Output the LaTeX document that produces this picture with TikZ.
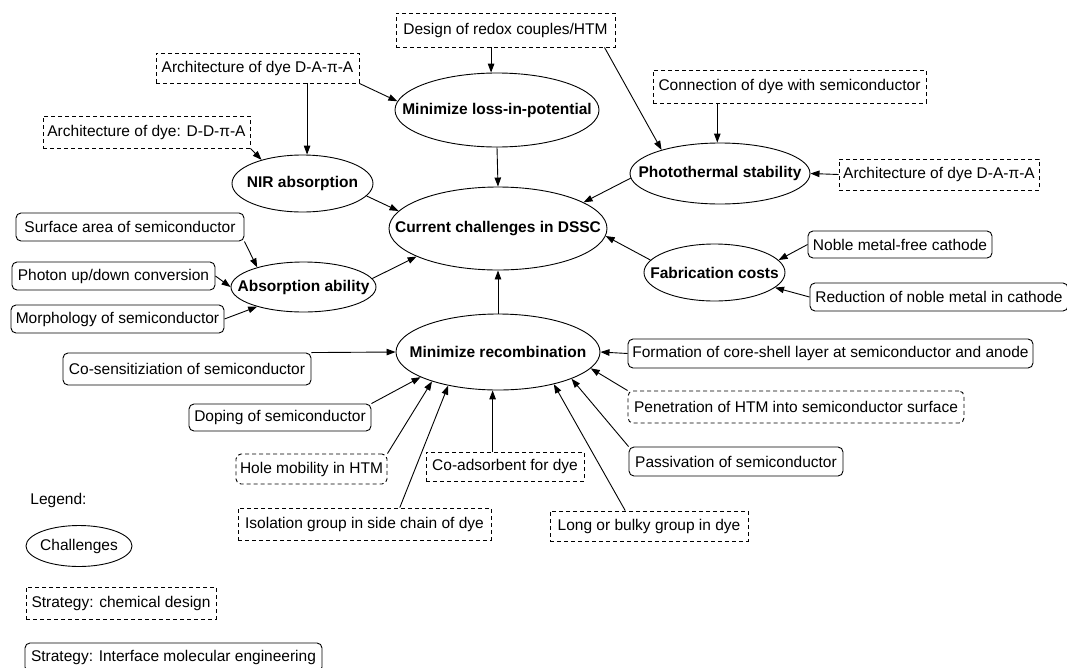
\documentclass[tikz,border=0pt]{standalone}
\usepackage{fontspec}
\setmainfont{Liberation Sans}
\usetikzlibrary{shapes.geometric,arrows.meta}
\begin{document}
\begin{tikzpicture}[x=1pt,y=-1pt,
  every node/.style={font=\fontsize{15.5pt}{18pt}\selectfont, inner xsep=3pt, inner ysep=2pt},
  sz/.style 2 args={minimum width=#1 pt, minimum height=#2 pt},
  dbox/.style={draw, line width=0.9pt, dash pattern=on 4pt off 3pt},
  rbox/.style={draw, line width=0.9pt, rounded corners=5pt},
  chal/.style n args={3}{ellipse, draw, line width=0.9pt, inner sep=0pt,
     minimum width=#1 pt, minimum height=#2 pt,
     label={[font=\fontsize{15.5pt}{18pt}\selectfont\bfseries, inner sep=0pt]center:#3}},
  arr/.style={line width=0.9pt, -{Triangle[length=9pt,width=6.5pt]}}
]
\useasboundingbox (0,0) rectangle (1067,667);

% challenges
\node[chal={204}{74}{Minimize loss-in-potential}] (loss) at (497,110) {};
\node[chal={141}{57}{NIR absorption}] (NIR) at (302.5,183.5) {};
\node[chal={180}{61}{Photothermal stability}] (photo) at (720,173.5) {};
\node[chal={218}{83}{Current challenges in DSSC}] (dssc) at (498,228.5) {};
\node[chal={145}{50}{Absorption ability}] (absorb) at (303.5,287) {};
\node[chal={141}{57}{Fabrication costs}] (fab) at (714.5,272.5) {};
\node[chal={204}{76}{Minimize recombination}] (recomb) at (498,352) {};

% strategies
\node[dbox, sz={219}{34}] (redox) at (505.5,30) {Design of redox couples/HTM};
\node[dbox, sz={203}{30}] (dyeA1) at (257.5,68) {Architecture of dye D-A-π-A};
\node[dbox, sz={207}{32}] (dyeDD) at (146.5,132) {Architecture of dye: D-D-π-A};
\node[dbox, sz={273}{33}] (conn) at (789.5,86.5) {Connection of dye with semiconductor};
\node[dbox, sz={200}{31}] (dyeA2) at (939,174.5) {Architecture of dye D-A-π-A};
\node[rbox, sz={228}{28}] (surf) at (130,227) {Surface area of semiconductor};
\node[rbox, sz={203}{28}] (photon) at (113.5,276) {Photon up/down conversion};
\node[rbox, sz={213}{28}] (morph) at (117.5,319) {Morphology of semiconductor};
\node[rbox, sz={184}{27}] (noble) at (900,244.5) {Noble metal-free cathode};
\node[rbox, sz={258}{28}] (reduc) at (939,297) {Reduction of noble metal in cathode};
\node[rbox, sz={405}{29}] (core) at (830.5,353.5) {Formation of core-shell layer at semiconductor and anode};
\node[dbox, rounded corners=5pt, sz={336}{32}] (penet) at (796,407) {Penetration of HTM into semiconductor surface};
\node[rbox, sz={214}{29}] (passiv) at (736,461.5) {Passivation of semiconductor};
\node[dbox, sz={198}{30}] (long) at (649,526) {Long or bulky group in dye};
\node[rbox, sz={248}{32}] (cosens) at (187,369) {Co-sensitiziation of semiconductor};
\node[rbox, sz={182}{27}] (doping) at (280,417.5) {Doping of semiconductor};
\node[dbox, rounded corners=5pt, sz={151}{30}] (hole) at (311.5,469) {Hole mobility in HTM};
\node[dbox, sz={158}{29}] (coads) at (505,466.5) {Co-adsorbent for dye};
\node[dbox, sz={253}{32}] (isol) at (364.5,524) {Isolation group in side chain of dye};

% legend
\node (legend) at (58.5,500) {Legend:};
\node[ellipse, draw, line width=0.9pt, inner sep=0pt, minimum width=106pt, minimum height=41pt,
      label={[font=\fontsize{15.5pt}{18pt}\selectfont, inner sep=0pt]center:Challenges}] (legchal) at (79,546) {};
\node[dbox, sz={190}{32}] (legchem) at (121,603) {Strategy: chemical design};
\node[rbox, sz={297}{29}] (legeng) at (173.5,657.5) {Strategy: Interface molecular engineering};

% connectors
\draw[arr] (redox.south -| loss.99) -- (loss.99);
\draw[arr] (dyeA1.south east) -- (loss.175);
\draw[arr] (dyeA1.south -| NIR.81) -- (NIR.81);
\draw[arr] (dyeDD.south east) -- (NIR.150);
\draw[arr] (loss.south) -- (dssc.north);
\draw[arr] (NIR.-11) -- (dssc.170);
\draw[arr] (photo.183) -- (dssc.17);
\draw[arr] (redox.-10.3) -- (photo.158);
\draw[arr] (conn.south -| photo.95) -- (photo.95);
\draw[arr] (dyeA2.west) -- (photo.east);
\draw[arr] (surf.south east) -- (absorb.157);
\draw[arr] (photon.east) -- (absorb.west);
\draw[arr] (morph.east) -- (absorb.203);
\draw[arr] (absorb.7) -- (dssc.199);
\draw[arr] (fab.169) -- (dssc.-4);
\draw[arr] (noble.west) -- (fab.11);
\draw[arr] (reduc.west) -- (fab.-14);
\draw[arr] (recomb.north) -- (dssc.south);
\draw[arr] (cosens.north east) -- (recomb.west);
\draw[arr] (doping.north east) -- (recomb.198);
\draw[arr] (hole.north east) -- (recomb.204);
\draw[arr] (coads.north -| recomb.262) -- (recomb.262);
\draw[arr] (isol.25.5) -- (recomb.214);
\draw[arr] (long.147) -- (recomb.-30);
\draw[arr] (passiv.north west) -- (recomb.-20);
\draw[arr] (penet.north west) -- (recomb.-10.6);
\draw[arr] (core.west) -- (recomb.east);
\end{tikzpicture}
\end{document}
